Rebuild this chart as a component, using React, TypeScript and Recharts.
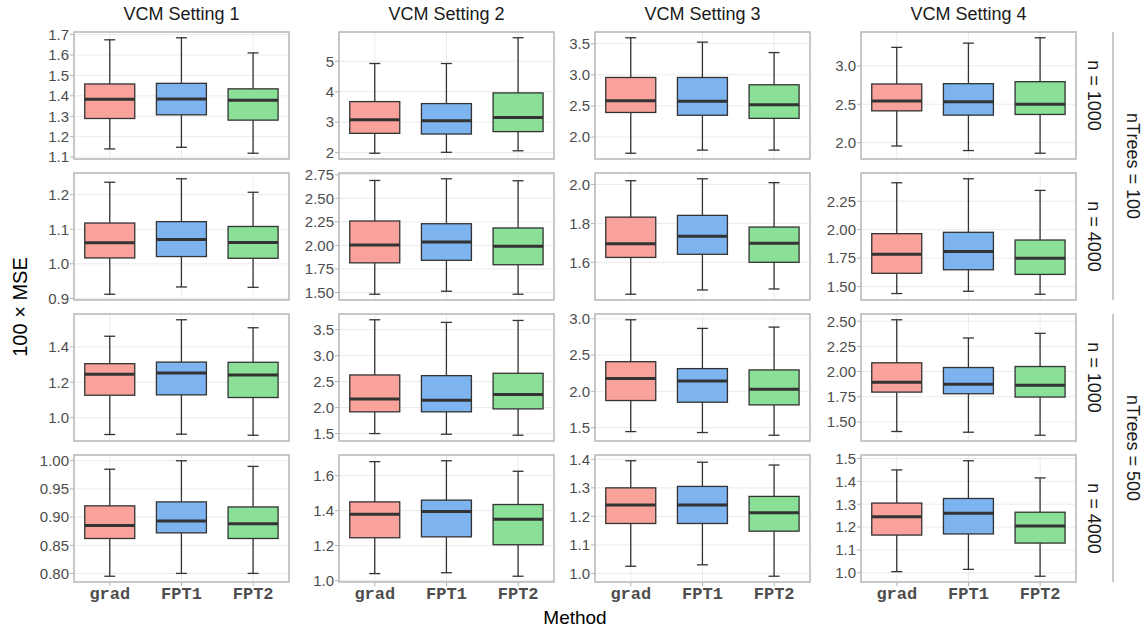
import { Bar, CartesianGrid, ComposedChart, XAxis, YAxis } from 'recharts';

const methods = ['grad', 'FPT1', 'FPT2'];
const methodFills = ['#F9A29C', '#7DB3EE', '#89E096'];
const settings = ['VCM Setting 1', 'VCM Setting 2', 'VCM Setting 3', 'VCM Setting 4'];
const sizeLabels = ['n = 1000', 'n = 4000', 'n = 1000', 'n = 4000'];
const treeLabels = ['nTrees = 100', 'nTrees = 500'];

// [lower whisker, q1, median, q3, upper whisker] for grad, FPT1, FPT2 in each VCM setting
const trees100n1000 = [
  [[1.14, 1.289, 1.383, 1.458, 1.674], [1.148, 1.307, 1.384, 1.461, 1.684], [1.119, 1.281, 1.378, 1.434, 1.61]],
  [[1.98, 2.633, 3.077, 3.675, 4.925], [2.01, 2.61, 3.045, 3.61, 4.925], [2.06, 2.69, 3.15, 3.96, 5.77]],
  [[1.74, 2.395, 2.585, 2.957, 3.595], [1.79, 2.35, 2.575, 2.957, 3.525], [1.79, 2.3, 2.52, 2.84, 3.357]],
  [[1.956, 2.414, 2.542, 2.764, 3.241], [1.897, 2.358, 2.533, 2.768, 3.296], [1.862, 2.367, 2.5, 2.794, 3.366]],
];
const trees100n4000 = [
  [[0.912, 1.017, 1.061, 1.118, 1.236], [0.933, 1.021, 1.07, 1.122, 1.246], [0.932, 1.016, 1.062, 1.108, 1.207]],
  [[1.482, 1.815, 2.003, 2.259, 2.689], [1.514, 1.842, 2.035, 2.23, 2.707], [1.482, 1.795, 1.99, 2.185, 2.686]],
  [[1.436, 1.625, 1.695, 1.832, 2.019], [1.458, 1.641, 1.734, 1.841, 2.029], [1.463, 1.6, 1.698, 1.781, 2.009]],
  [[1.439, 1.617, 1.785, 1.965, 2.412], [1.459, 1.648, 1.808, 1.977, 2.447], [1.433, 1.607, 1.75, 1.909, 2.345]],
];
const trees500n1000 = [
  [[0.905, 1.127, 1.246, 1.305, 1.46], [0.907, 1.129, 1.252, 1.314, 1.553], [0.901, 1.114, 1.241, 1.313, 1.508]],
  [[1.5, 1.918, 2.166, 2.628, 3.69], [1.487, 1.918, 2.14, 2.615, 3.64], [1.468, 1.975, 2.25, 2.66, 3.677]],
  [[1.445, 1.873, 2.178, 2.408, 2.986], [1.432, 1.85, 2.141, 2.313, 2.867], [1.395, 1.813, 2.03, 2.295, 2.885]],
  [[1.405, 1.796, 1.895, 2.087, 2.514], [1.398, 1.78, 1.875, 2.04, 2.333], [1.368, 1.747, 1.865, 2.05, 2.379]],
];
const trees500n4000 = [
  [[0.795, 0.862, 0.885, 0.92, 0.985], [0.8, 0.872, 0.893, 0.927, 1.0], [0.8, 0.862, 0.888, 0.918, 0.99]],
  [[1.04, 1.245, 1.38, 1.45, 1.68], [1.045, 1.25, 1.395, 1.46, 1.685], [1.025, 1.205, 1.35, 1.435, 1.625]],
  [[1.025, 1.175, 1.24, 1.3, 1.395], [1.03, 1.175, 1.24, 1.305, 1.39], [0.99, 1.148, 1.213, 1.27, 1.38]],
  [[1.005, 1.165, 1.245, 1.305, 1.45], [1.015, 1.17, 1.26, 1.325, 1.49], [0.985, 1.13, 1.205, 1.265, 1.415]],
];

// y tick labels per panel
const ticks100n1000 = [
  ['1.1', '1.2', '1.3', '1.4', '1.5', '1.6', '1.7'],
  ['2', '3', '4', '5'],
  ['2.0', '2.5', '3.0', '3.5'],
  ['2.0', '2.5', '3.0'],
];
const ticks100n4000 = [
  ['0.9', '1.0', '1.1', '1.2'],
  ['1.50', '1.75', '2.00', '2.25', '2.50', '2.75'],
  ['1.6', '1.8', '2.0'],
  ['1.50', '1.75', '2.00', '2.25'],
];
const ticks500n1000 = [
  ['1.0', '1.2', '1.4'],
  ['1.5', '2.0', '2.5', '3.0', '3.5'],
  ['1.5', '2.0', '2.5', '3.0'],
  ['1.50', '1.75', '2.00', '2.25', '2.50'],
];
const ticks500n4000 = [
  ['0.80', '0.85', '0.90', '0.95', '1.00'],
  ['1.0', '1.2', '1.4', '1.6'],
  ['1.0', '1.1', '1.2', '1.3', '1.4'],
  ['1.0', '1.1', '1.2', '1.3', '1.4', '1.5'],
];

const rowsStats = [trees100n1000, trees100n4000, trees500n1000, trees500n4000];
const rowsTicks = [ticks100n1000, ticks100n4000, ticks500n1000, ticks500n4000];

const PANEL_LEFT = [74, 339, 595, 861];
const PANEL_TOP = [32, 173, 314, 455];
const PW = 215;
const PH = 127;
const Y_W = 50;
const X_H = 26;
const PAD_V = 10;
const INK = '#333333';
const SANS = '"Liberation Sans", Arial, sans-serif';

function BoxShape(props: any) {
  const { x, y, width, height, payload } = props;
  const [lo, q1, med, q3, hi] = payload.stats;
  const top = Math.min(y, y + height);
  const h = Math.abs(height);
  const py = (v: number) => top + ((hi - v) / (hi - lo)) * h;
  const cx = x + width / 2;
  const cap = width * 0.11;
  return (
    <g>
      <line x1={cx} x2={cx} y1={py(hi)} y2={py(q3)} stroke={INK} strokeWidth={1.3} />
      <line x1={cx} x2={cx} y1={py(q1)} y2={py(lo)} stroke={INK} strokeWidth={1.3} />
      <line x1={cx - cap} x2={cx + cap} y1={py(hi)} y2={py(hi)} stroke={INK} strokeWidth={1.3} />
      <line x1={cx - cap} x2={cx + cap} y1={py(lo)} y2={py(lo)} stroke={INK} strokeWidth={1.3} />
      <rect x={x} y={py(q3)} width={width} height={py(q1) - py(q3)} fill={payload.fill} stroke={INK} strokeWidth={1.3} />
      <line x1={x} x2={x + width} y1={py(med)} y2={py(med)} stroke={INK} strokeWidth={3} />
    </g>
  );
}

function Facet({ row, col }: { row: number; col: number }) {
  const stats = rowsStats[row][col];
  const labels = rowsTicks[row][col];
  const tickVals = labels.map(Number);
  const lo = Math.min(...stats.map((s) => s[0]));
  const hi = Math.max(...stats.map((s) => s[4]));
  const pad = (hi - lo) * 0.05;
  const data = methods.map((m, i) => ({
    method: m,
    range: [stats[i][0], stats[i][4]],
    stats: stats[i],
    fill: methodFills[i],
  }));
  const last = row === 3;
  return (
    <div style={{ position: 'absolute', left: PANEL_LEFT[col] - Y_W, top: PANEL_TOP[row] - PAD_V }}>
      <ComposedChart
        width={Y_W + PW}
        height={PH + PAD_V + (last ? X_H : PAD_V)}
        data={data}
        margin={{ top: PAD_V, right: 0, bottom: last ? 0 : PAD_V, left: 0 }}
        barCategoryGap="15%"
      >
        <CartesianGrid stroke="#ebebeb" strokeWidth={1} />
        <XAxis
          dataKey="method"
          hide={!last}
          height={X_H}
          interval={0}
          axisLine={false}
          tickLine={{ stroke: '#b3b3b3' }}
          tickSize={4}
          tickMargin={1}
          tick={{ fontFamily: '"Liberation Mono", "DejaVu Sans Mono", monospace', fontWeight: 'bold', fontSize: 17, fill: '#4d4d4d' }}
        />
        <YAxis
          type="number"
          domain={[lo - pad, hi + pad]}
          ticks={tickVals}
          width={Y_W}
          interval={0}
          axisLine={false}
          tickLine={{ stroke: '#b3b3b3' }}
          tickSize={4}
          tickMargin={1}
          tick={{ fontFamily: SANS, fontSize: 15, fill: '#4d4d4d' }}
          tickFormatter={(v: number) => labels[tickVals.indexOf(v)] ?? String(v)}
        />
        <Bar dataKey="range" shape={BoxShape} isAnimationActive={false} />
      </ComposedChart>
    </div>
  );
}

export default function App() {
  const cells: { row: number; col: number }[] = [];
  for (let r = 0; r < 4; r++) for (let c = 0; c < 4; c++) cells.push({ row: r, col: c });
  const gridLeft = PANEL_LEFT[0];
  const gridRight = PANEL_LEFT[3] + PW;
  const gridMid = (PANEL_TOP[0] + PANEL_TOP[3] + PH) / 2;
  return (
    <div style={{ position: 'absolute', left: 0, top: 0, width: 1144, height: 630, background: '#fff' }}>
      {cells.map((c) => (
        <Facet key={`${c.row}-${c.col}`} row={c.row} col={c.col} />
      ))}
      <svg width={1144} height={630} style={{ position: 'absolute', left: 0, top: 0, pointerEvents: 'none' }}>
        {cells.map((c) => (
          <rect
            key={`b${c.row}-${c.col}`}
            x={PANEL_LEFT[c.col]}
            y={PANEL_TOP[c.row]}
            width={PW}
            height={PH}
            fill="none"
            stroke="#bcbcbc"
            strokeWidth={1.6}
          />
        ))}
        {settings.map((s, i) => (
          <text key={s} x={PANEL_LEFT[i] + PW / 2} y={14} textAnchor="middle" dominantBaseline="central" fontFamily={SANS} fontSize={18} fill="#1a1a1a">
            {s}
          </text>
        ))}
        {sizeLabels.map((s, i) => {
          const cy = PANEL_TOP[i] + PH / 2;
          return (
            <text key={`n${i}`} x={1094} y={cy} transform={`rotate(90 1094 ${cy})`} textAnchor="middle" dominantBaseline="central" fontFamily={SANS} fontSize={18} fill="#1a1a1a">
              {s}
            </text>
          );
        })}
        {treeLabels.map((s, i) => {
          const y0 = PANEL_TOP[i * 2];
          const y1 = PANEL_TOP[i * 2 + 1] + PH;
          const cy = (y0 + y1) / 2;
          return (
            <g key={s}>
              <line x1={1113} x2={1113} y1={y0} y2={y1} stroke="#b3b3b3" strokeWidth={1.4} />
              <text x={1133} y={cy} transform={`rotate(90 1133 ${cy})`} textAnchor="middle" dominantBaseline="central" fontFamily={SANS} fontSize={18} fill="#1a1a1a">
                {s}
              </text>
            </g>
          );
        })}
        <text x={20} y={gridMid} transform={`rotate(-90 20 ${gridMid})`} textAnchor="middle" dominantBaseline="central" fontFamily={SANS} fontSize={20} fill="#000">
          100 × MSE
        </text>
        <text x={(gridLeft + gridRight) / 2} y={617} textAnchor="middle" dominantBaseline="central" fontFamily={SANS} fontSize={19} fill="#000">
          Method
        </text>
      </svg>
    </div>
  );
}
